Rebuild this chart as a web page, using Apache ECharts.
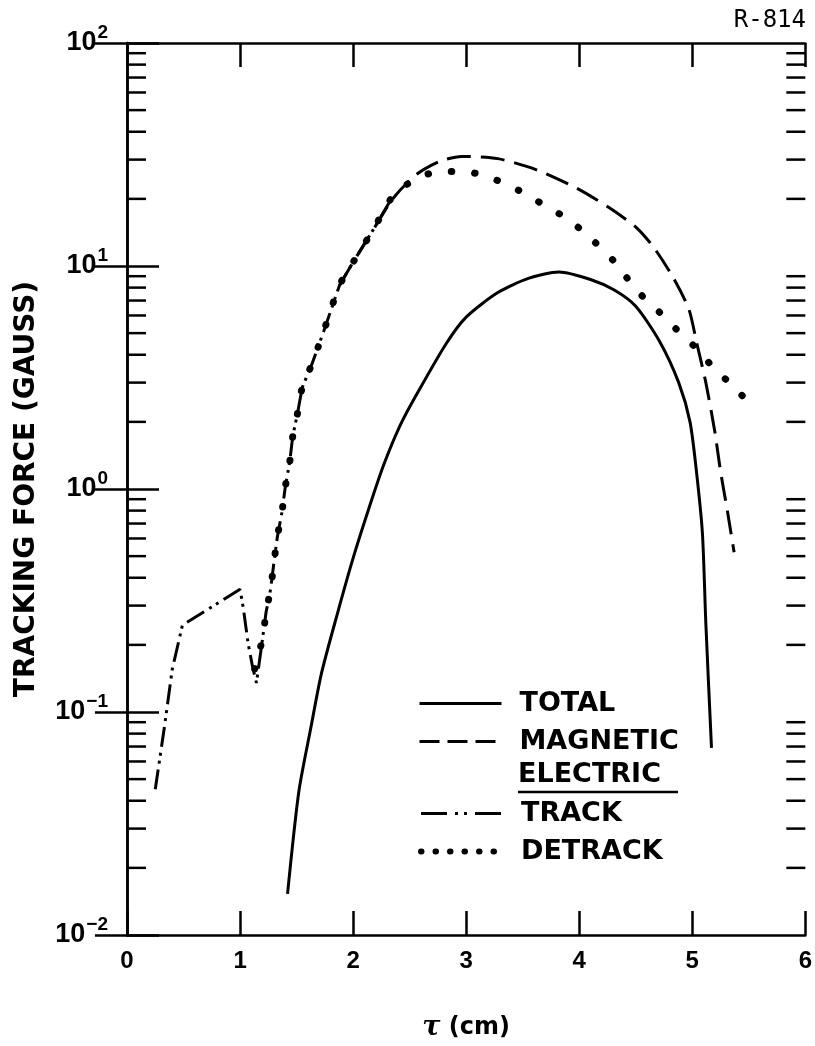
<!DOCTYPE html>
<html>
<head>
<meta charset="utf-8">
<script src="https://cdn.jsdelivr.net/npm/echarts@6/dist/echarts.min.js"></script>
<style>html,body{margin:0;padding:0;background:#fff}#chart{width:815px;height:1046px}</style>
</head>
<body>
<div id="chart"></div>
<script>
// ---- data ----
const xTickLabels = ['0', '1', '2', '3', '4', '5', '6'];
const yTickExponents = ['−2', '−1', '0', '1', '2']; // 10^-2 ... 10^2
const minorTickValues = [
  0.02, 0.03, 0.04, 0.05, 0.06, 0.07, 0.08, 0.09,
  0.2, 0.3, 0.4, 0.5, 0.6, 0.7, 0.8, 0.9,
  2, 3, 4, 5, 6, 7, 8, 9,
  20, 30, 40, 50, 60, 70, 80, 90
];

const totalX = [1.42, 1.52, 1.63, 1.72, 1.86, 2.0, 2.14, 2.27, 2.41, 2.55, 2.82, 3.0, 3.28, 3.55, 3.82, 4.1, 4.31, 4.5, 4.71, 4.88, 4.98, 5.04, 5.09, 5.12, 5.17];
const totalY = [0.0153, 0.044, 0.087, 0.149, 0.275, 0.49, 0.82, 1.28, 1.9, 2.59, 4.46, 5.9, 7.6, 8.8, 9.4, 8.7, 7.8, 6.6, 4.6, 3.0, 2.0, 1.16, 0.63, 0.25, 0.069];

const magX = [1.88, 2.0, 2.18, 2.35, 2.55, 2.77, 2.96, 3.28, 3.63, 3.98, 4.27, 4.51, 4.66, 4.83, 4.97, 5.04, 5.12, 5.2, 5.25, 5.31, 5.37];
const magY = [8.2, 10.4, 14.6, 20, 25.5, 29.5, 31, 30.3, 26.9, 22.3, 18.2, 14.8, 12.1, 8.9, 6.4, 4.5, 3.0, 1.8, 1.2, 0.8, 0.52];

const trackX = [0.25, 0.33, 0.40, 0.49, 1.0, 1.03, 1.07, 1.11, 1.145, 1.20, 1.23, 1.27, 1.30, 1.33, 1.37, 1.40, 1.44, 1.465, 1.51, 1.55, 1.64, 1.74, 1.88, 2.0, 2.18, 2.35];
const trackY = [0.045, 0.085, 0.155, 0.245, 0.355, 0.29, 0.205, 0.16, 0.135, 0.215, 0.28, 0.355, 0.47, 0.61, 0.785, 1.02, 1.33, 1.71, 2.21, 2.85, 3.68, 5.1, 8.2, 10.4, 14.6, 20.5];

const detX = [1.13, 1.20, 1.23, 1.27, 1.30, 1.33, 1.37, 1.40, 1.44, 1.465, 1.51, 1.55, 1.64, 1.74, 1.88, 2.0, 2.18, 2.35, 2.56, 2.77, 2.99, 3.2, 3.41, 3.61, 3.78, 3.95, 4.13, 4.30, 4.41, 4.55, 4.71, 4.86, 5.03, 5.21, 5.36, 5.51];
const detY = [0.156, 0.215, 0.28, 0.355, 0.47, 0.61, 0.785, 1.02, 1.33, 1.71, 2.21, 2.85, 3.68, 5.1, 8.2, 10.4, 14.6, 20.5, 24.7, 26.5, 26.5, 25, 22.6, 19.8, 17.7, 15.5, 12.9, 10.6, 9.0, 7.4, 6.2, 5.2, 4.3, 3.4, 2.9, 2.4];

// ---- chart ----
const zip = (xs, ys) => xs.map((x, i) => [x, ys[i]]);
const BLACK = '#000';
const axisLineStyle = { lineStyle: { color: BLACK, width: 2.5 } };
const tickFont = 'Liberation Sans';

const chart = echarts.init(document.getElementById('chart'), null, { renderer: 'canvas' });

const yLabelFormatter = v => {
  const e = Math.round(Math.log10(v));
  return '{b|10}{s|' + yTickExponents[e + 2] + '}';
};

const legendText = { color: BLACK, fontSize: 27, fontWeight: 'bold', fontFamily: 'DejaVu Sans', lineHeight: 20, padding: [0, 0, 0, 13] };

const option = {
  animation: false,
  backgroundColor: '#fff',
  grid: { left: 127, right: 7, top: 43, bottom: 100 },
  xAxis: [
    {
      type: 'value', min: 0, max: 6, interval: 1, position: 'bottom',
      axisLine: axisLineStyle,
      axisTick: { inside: true, length: 24, lineStyle: { color: BLACK, width: 2.5 } },
      axisLabel: { margin: 14, color: BLACK, fontSize: 24, fontWeight: 'bold', fontFamily: tickFont,
        formatter: v => xTickLabels[Math.round(v)] },
      splitLine: { show: false },
      name: '{t|τ} (cm)', nameLocation: 'middle', nameGap: 79,
      nameTextStyle: { color: BLACK, fontSize: 24, fontWeight: 'bold', fontFamily: 'DejaVu Sans',
        rich: { t: { fontSize: 27, fontWeight: 'bold', fontStyle: 'italic', fontFamily: 'DejaVu Serif', color: BLACK } } }
    },
    {
      type: 'value', min: 0, max: 6, interval: 1, position: 'top',
      axisLine: axisLineStyle,
      axisTick: { inside: true, length: 24, lineStyle: { color: BLACK, width: 2.5 } },
      axisLabel: { show: false }, splitLine: { show: false }
    }
  ],
  yAxis: [
    {
      type: 'log', logBase: 10, min: 0.01, max: 100, position: 'left',
      axisLine: axisLineStyle,
      axisTick: { inside: true, length: 32, lineStyle: { color: BLACK, width: 2.5 } },
      axisLabel: {
        margin: 19, color: BLACK, fontFamily: tickFont, formatter: yLabelFormatter,
        rich: {
          b: { fontSize: 27, fontWeight: 'bold', fontFamily: tickFont, color: BLACK },
          s: { fontSize: 19, fontWeight: 'bold', fontFamily: tickFont, color: BLACK, padding: [0, 0, 20, 1] }
        }
      },
      splitLine: { show: false },
      name: 'TRACKING FORCE (GAUSS)', nameLocation: 'middle', nameGap: 86,
      nameTextStyle: { color: BLACK, fontSize: 28, fontWeight: 'bold', fontFamily: 'DejaVu Sans' }
    },
    {
      type: 'log', logBase: 10, min: 0.01, max: 100, position: 'right',
      axisLine: axisLineStyle,
      axisTick: { inside: true, length: 32, lineStyle: { color: BLACK, width: 2.5 } },
      axisLabel: { show: false }, splitLine: { show: false }
    }
  ],
  legend: [
    {
      data: [
        { name: 'TOTAL', lineStyle: { width: 3, type: 'solid' } },
        { name: 'MAGNETIC', lineStyle: { width: 3, type: [20, 8] } }
      ],
      left: 418, top: 690, orient: 'vertical', padding: 0,
      itemWidth: 82, itemHeight: 20, itemGap: 11, selectedMode: false,
      itemStyle: { opacity: 0 },
      textStyle: legendText
    },
    {
      data: [
        { name: 'TRACK', lineStyle: { width: 3, type: [26, 8, 3, 6, 3, 8] } },
        { name: 'DETRACK', lineStyle: { width: 6, cap: 'round', type: [0.5, 14] } }
      ],
      left: 418, top: 800, orient: 'vertical', padding: 0,
      itemWidth: 82, itemHeight: 20, itemGap: 11, selectedMode: false,
      itemStyle: { opacity: 0 },
      textStyle: legendText
    }
  ],
  graphic: [
    { type: 'text', x: 518, y: 775, silent: true,
      style: { text: 'ELECTRIC', fill: BLACK, fontSize: 27, fontWeight: 'bold', fontFamily: 'DejaVu Sans', align: 'left', verticalAlign: 'middle' } },
    { type: 'line', silent: true, shape: { x1: 518, y1: 792, x2: 678, y2: 792 }, style: { stroke: BLACK, lineWidth: 2.5 } },
    { type: 'text', x: 806, y: 21, silent: true,
      style: { text: 'R-814', fill: BLACK, fontSize: 24, fontFamily: 'DejaVu Sans Mono', align: 'right', verticalAlign: 'middle' } }
  ],
  series: [
    {
      name: 'TOTAL', type: 'line', data: zip(totalX, totalY), symbol: 'none', smooth: 0.25,
      lineStyle: { color: BLACK, width: 3, type: 'solid' }, itemStyle: { color: BLACK }
    },
    {
      name: 'MAGNETIC', type: 'line', data: zip(magX, magY), symbol: 'none', smooth: 0.25,
      lineStyle: { color: BLACK, width: 3, type: [24, 10] }, itemStyle: { color: BLACK }
    },
    {
      name: 'TRACK', type: 'line', data: zip(trackX, trackY), symbol: 'none',
      lineStyle: { color: BLACK, width: 3, type: [20, 6, 3, 5, 3, 6] }, itemStyle: { color: BLACK }
    },
    {
      name: 'DETRACK', type: 'line', data: zip(detX, detY), symbol: 'none', smooth: 0.25,
      lineStyle: { color: BLACK, width: 7, cap: 'round', type: [0.5, 23] }, itemStyle: { color: BLACK }
    },
    {
      name: 'minorTicks', type: 'custom', silent: true, clip: false,
      data: minorTickValues.map(v => [0, v]),
      renderItem: (params, api) => {
        const v = api.value(1);
        const l = api.coord([0, v]);
        const r = api.coord([6, v]);
        return {
          type: 'group',
          children: [
            { type: 'line', shape: { x1: l[0], y1: l[1], x2: l[0] + 19, y2: l[1] }, style: { stroke: BLACK, lineWidth: 2.5 } },
            { type: 'line', shape: { x1: r[0], y1: r[1], x2: r[0] - 19, y2: r[1] }, style: { stroke: BLACK, lineWidth: 2.5 } }
          ]
        };
      }
    }
  ]
};
chart.setOption(option);
</script>
</body>
</html>
